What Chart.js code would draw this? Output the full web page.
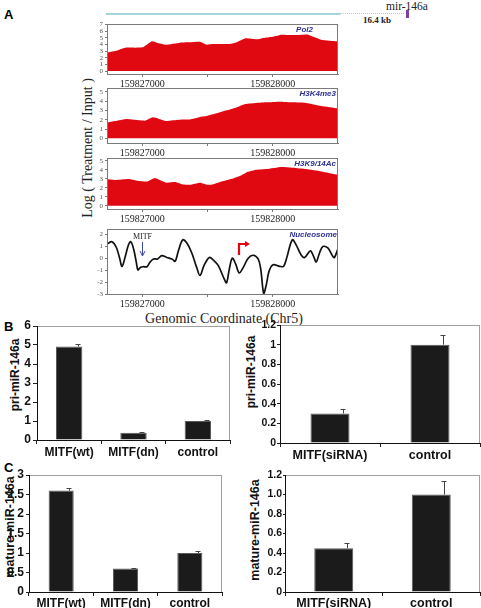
<!DOCTYPE html>
<html><head><meta charset="utf-8">
<script src="https://cdn.jsdelivr.net/npm/chart.js@4.4.1/dist/chart.umd.min.js"></script>
<style>
html,body{margin:0;padding:0;background:#fff;}
body{width:481px;height:608px;overflow:hidden;position:relative;}
canvas{position:absolute;}
.t{position:absolute;white-space:nowrap;line-height:1;}
.yt{position:absolute;white-space:nowrap;line-height:1;transform:translate(-50%,-50%) rotate(-90deg);font-family:'Liberation Sans',Arial,sans-serif;font-weight:bold;color:#111;}
</style></head><body>
<div class="t" style="left:4px;top:7px;font:bold 13px 'Liberation Sans',Arial,sans-serif;">A</div>
<div class="t" style="left:4px;top:319px;font:bold 13px 'Liberation Sans',Arial,sans-serif;">B</div>
<div class="t" style="left:4px;top:460px;font:bold 13px 'Liberation Sans',Arial,sans-serif;">C</div>
<div style="position:absolute;left:106px;top:13px;width:234px;height:1.5px;background:#a3d5de;"></div>
<div style="position:absolute;left:340px;top:13px;width:64px;height:0;border-top:1.5px dotted #a3d5de;"></div>
<div style="position:absolute;left:406px;top:10px;width:2.5px;height:8px;background:#7d3f9c;"></div>
<div class="t" style="left:386px;top:0px;font:11.5px 'Liberation Serif','Times New Roman',serif;color:#222;">mir-146a</div>
<div class="t" style="left:363px;top:15px;font:bold 9px 'Liberation Serif','Times New Roman',serif;color:#222;">16.4 kb</div>
<div class="t" style="left:88px;top:148px;transform:translate(-50%,-50%) rotate(-90deg);font:14px 'Liberation Serif','Times New Roman',serif;color:#222;">Log ( Treatment / Input )</div>
<div class="t" style="left:224px;top:311px;transform:translateX(-50%);font:14px 'Liberation Serif','Times New Roman',serif;color:#222;">Genomic Coordinate (Chr5)</div>
<div class="yt" style="left:15px;top:375px;font-size:12px;">pri-miR-146a</div>
<div class="yt" style="left:251px;top:372px;font-size:12px;">pri-miR-146a</div>
<div class="yt" style="left:10px;top:527px;font-size:12.5px;">mature-miR-146a</div>
<div class="yt" style="left:255px;top:530px;font-size:12.5px;">mature-miR-146a</div>
<canvas id="pol2"></canvas><canvas id="h3k4"></canvas><canvas id="h3k9"></canvas><canvas id="nuc"></canvas>
<canvas id="bl"></canvas><canvas id="br"></canvas><canvas id="cl"></canvas><canvas id="cr"></canvas>
<script>
// ---------- data ----------
const trackRange = [159826730, 159828500];
const trackTicks = [159827000, 159827500, 159828000];
const trackTickLabels = ['159827000', '', '159828000'];

const pol2Coords = [159826730,159826794,159826870,159826947,159827010,159827074,159827112,159827181,159827290,159827354,159827443,159827494,159827545,159827672,159827723,159827791,159827875,159827939,159828003,159828066,159828130,159828206,159828270,159828372,159828435,159828500];
const pol2Values = [2.75,3.0,3.5,3.5,3.6,4.45,4.25,3.95,4.25,4.3,4.4,3.95,4.05,4.05,4.3,4.9,4.75,5.0,5.15,5.45,5.4,5.4,5.45,4.7,4.55,4.45];

const h3k4Coords = [159826730,159826794,159826883,159826959,159827023,159827081,159827125,159827181,159827239,159827303,159827366,159827443,159827494,159827570,159827646,159827723,159827791,159827875,159827952,159828053,159828155,159828257,159828372,159828500];
const h3k4Values = [1.68,1.85,2.07,1.96,1.9,2.25,2.1,1.85,1.93,2.03,2.03,2.3,2.4,2.68,3.0,3.32,3.68,3.79,3.86,3.93,3.86,3.79,3.46,3.21];

const h3k9Coords = [159826730,159826794,159826896,159826959,159827036,159827092,159827125,159827188,159827252,159827303,159827366,159827443,159827499,159827545,159827608,159827697,159827748,159827799,159827863,159827952,159828066,159828155,159828257,159828372,159828500];
const h3k9Values = [2.96,2.85,2.96,2.78,2.7,3.07,2.93,2.56,2.63,2.4,2.33,2.56,2.33,2.4,2.7,3.04,3.3,3.7,3.96,4.07,4.3,4.22,4.07,3.81,3.44];

const nucCoords = [159826735,159826768,159826801,159826827,159826845,159826870,159826896,159826913,159826934,159826954,159826967,159826985,159827010,159827036,159827061,159827087,159827117,159827150,159827188,159827227,159827252,159827277,159827310,159827341,159827379,159827417,159827443,159827473,159827514,159827545,159827583,159827626,159827646,159827667,159827690,159827715,159827743,159827774,159827812,159827850,159827888,159827908,159827931,159827952,159827972,159828003,159828054,159828084,159828110,159828150,159828181,159828219,159828244,159828288,159828313,159828333,159828359,159828384,159828422,159828461,159828473,159828499];
const nucValues = [1.23,1.38,0.92,0,-0.68,0.15,1.17,1.38,0.77,-0.31,-0.98,-0.77,-0.71,-0.71,-0.31,-0.06,-0.06,0.22,0.06,-0.06,-0.25,0.62,1.54,1.29,0.46,-0.77,-1.45,-0.62,0.06,-0.15,-0.62,-1.69,-2.06,-0.92,0,-0.46,-1.23,-0.77,0,0.25,-0.06,-0.92,-2.95,-2.15,-1.08,-0.55,-0.68,-0.68,0.15,1.54,1.08,0.25,0.06,0.62,0.15,-0.31,0.46,0.98,0.86,0.15,0.06,0.77];

const mitfSite = 159827000;
const tssSite = 159827740;

const groups3 = ['MITF(wt)', 'MITF(dn)', 'control'];
const groups2 = ['MITF(siRNA)', 'control'];
const priValues3 = [4.92, 0.38, 1.0];
const priErrors3 = [0.13, 0.06, 0.07];
const priValues2 = [0.30, 1.0];
const priErrors2 = [0.045, 0.095];
const matureValues3 = [2.6, 0.6, 1.0];
const matureErrors3 = [0.06, 0.025, 0.05];
const matureValues2 = [0.45, 1.0];
const matureErrors2 = [0.05, 0.135];

// ---------- plugins ----------
const SERIF = "'Liberation Serif','Times New Roman',serif";
const SANS = "'Liberation Sans',Arial,sans-serif";

const framePlugin = {
  id: 'frame',
  beforeDraw(chart, args, o) { if (!o.after) drawFrame(chart, o); },
  afterDatasetsDraw(chart, args, o) { if (o.after) drawFrame(chart, o); }
};
function drawFrame(chart, o) {
  const a = chart.chartArea, ctx = chart.ctx;
  ctx.save();
  ctx.strokeStyle = o.color || '#888';
  ctx.lineWidth = 1;
  ctx.strokeRect(Math.round(a.left) + 0.5, Math.round(a.top) + 0.5, Math.round(a.right - a.left) - 1, Math.round(a.bottom - a.top));
  ctx.restore();
}

const trackLabelPlugin = {
  id: 'trackLabel',
  afterDatasetsDraw(chart, args, o) {
    if (!o.text) return;
    const a = chart.chartArea, ctx = chart.ctx;
    ctx.save();
    ctx.font = 'italic bold 8px ' + SANS;
    ctx.fillStyle = '#2e3192';
    ctx.textAlign = 'right';
    ctx.textBaseline = 'top';
    ctx.fillText(o.text, a.right - (o.dx || 2), a.top + 2);
    ctx.restore();
  }
};

const siteMarksPlugin = {
  id: 'siteMarks',
  afterDatasetsDraw(chart, args, o) {
    if (!o.show) return;
    const ctx = chart.ctx, xs = chart.scales.x, top = chart.chartArea.top;
    ctx.save();
    const mx = Math.round(xs.getPixelForValue(mitfSite)) + 0.5;
    ctx.font = '8px ' + SERIF;
    ctx.fillStyle = '#222';
    ctx.textAlign = 'center';
    ctx.textBaseline = 'middle';
    ctx.fillText('MITF', mx, top + 8);
    ctx.strokeStyle = '#3b4a9c';
    ctx.lineWidth = 1;
    ctx.beginPath(); ctx.moveTo(mx, top + 13); ctx.lineTo(mx, top + 26); ctx.stroke();
    ctx.beginPath(); ctx.moveTo(mx - 2.5, top + 22); ctx.lineTo(mx, top + 27); ctx.lineTo(mx + 2.5, top + 22); ctx.stroke();
    const tx = Math.round(xs.getPixelForValue(tssSite));
    ctx.strokeStyle = '#e30613';
    ctx.fillStyle = '#e30613';
    ctx.lineWidth = 2.2;
    ctx.beginPath(); ctx.moveTo(tx, top + 26); ctx.lineTo(tx, top + 15); ctx.lineTo(tx + 7, top + 15); ctx.stroke();
    ctx.beginPath(); ctx.moveTo(tx + 6, top + 12); ctx.lineTo(tx + 11, top + 15); ctx.lineTo(tx + 6, top + 18); ctx.closePath(); ctx.fill();
    ctx.restore();
  }
};

const errorBarPlugin = {
  id: 'errorBars',
  afterDatasetsDraw(chart, args, o) {
    if (!o.errors) return;
    const ctx = chart.ctx, ys = chart.scales.y;
    const meta = chart.getDatasetMeta(0);
    const vals = chart.data.datasets[0].data;
    ctx.save();
    ctx.strokeStyle = '#444';
    ctx.lineWidth = 1;
    meta.data.forEach((bar, i) => {
      const x = Math.round(bar.x + o.shift * bar.width) + 0.5;
      const y0 = ys.getPixelForValue(vals[i]);
      const y1 = Math.round(ys.getPixelForValue(vals[i] + o.errors[i])) + 0.5;
      ctx.beginPath();
      ctx.moveTo(x, y0); ctx.lineTo(x, y1);
      ctx.moveTo(x - 3, y1); ctx.lineTo(x + 2, y1);
      ctx.stroke();
    });
    ctx.restore();
  }
};

function placeCanvas(id, box, YW, PT, PR, XH) {
  const cv = document.getElementById(id);
  const W = box.r - box.l + YW + PR, H = box.b - box.t + PT + XH;
  cv.width = W; cv.height = H;
  cv.style.left = (box.l - YW) + 'px'; cv.style.top = (box.t - PT) + 'px';
  cv.style.width = W + 'px'; cv.style.height = H + 'px';
  return cv;
}

// ---------- genomic tracks ----------
function trackChart(id, box, coords, values, yMin, yMax, kind, label, labelDx) {
  const YW = 27, PT = 6, PR = 6, XH = 16;
  const cv = placeCanvas(id, box, YW, PT, PR, XH);
  const isLine = kind === 'line';
  new Chart(cv, {
    type: 'line',
    data: { datasets: [{
      data: coords.map((c, i) => ({ x: c, y: values[i] })),
      fill: isLine ? false : 'origin',
      backgroundColor: '#e00912',
      borderColor: isLine ? '#111' : '#e00912',
      borderWidth: isLine ? 1.7 : 0,
      tension: isLine ? 0.35 : 0.15,
      pointRadius: 0
    }]},
    options: {
      responsive: false, animation: false, events: [],
      layout: { padding: { top: PT, right: PR, left: 0, bottom: 0 } },
      plugins: {
        legend: { display: false }, tooltip: { enabled: false },
        frame: { color: '#7a7a7a', after: true },
        trackLabel: { text: label, dx: labelDx },
        siteMarks: { show: isLine }
      },
      scales: {
        x: {
          type: 'linear', min: trackRange[0], max: trackRange[1],
          afterBuildTicks: s => { s.ticks = trackTicks.map(v => ({ value: v })); },
          afterFit: s => { s.height = XH; },
          ticks: {
            autoSkip: false, maxRotation: 0, padding: 1, color: '#222',
            font: { family: SERIF, size: 10 },
            callback: v => trackTickLabels[trackTicks.indexOf(v)] ?? ''
          },
          grid: { drawOnChartArea: false, tickLength: 3, color: '#7a7a7a' },
          border: { color: '#7a7a7a' }
        },
        y: {
          min: yMin, max: yMax,
          afterBuildTicks: s => {
            const t = [];
            for (let v = Math.ceil(yMin); v <= Math.floor(yMax); v++) t.push({ value: v });
            s.ticks = t;
          },
          afterFit: s => { s.width = YW; },
          ticks: { autoSkip: false, padding: 2, color: '#555', font: { family: SERIF, size: 7, lineHeight: 1 } },
          grid: { drawOnChartArea: false, tickLength: 2, color: '#7a7a7a' },
          border: { color: '#7a7a7a' }
        }
      }
    },
    plugins: [framePlugin, trackLabelPlugin, siteMarksPlugin]
  });
}

trackChart('pol2', { l: 107, t: 24, r: 338, b: 74 }, pol2Coords, pol2Values, -0.45, 7.05, 'area', 'Pol2', 25);
trackChart('h3k4', { l: 107, t: 88, r: 338, b: 143 }, h3k4Coords, h3k4Values, -0.5, 5.4, 'area', 'H3K4me3', 2);
trackChart('h3k9', { l: 107, t: 158, r: 338, b: 209 }, h3k9Coords, h3k9Values, -0.35, 5.3, 'area', 'H3K9/14Ac', 2);
trackChart('nuc', { l: 107, t: 229, r: 338, b: 294 }, nucCoords, nucValues, -3, 2.45, 'line', 'Nucleosome', 1);

// ---------- bar charts ----------
function barChart(id, box, cfg) {
  const YW = cfg.YW, PT = 10, PR = cfg.PR, XH = cfg.XH;
  const cv = placeCanvas(id, box, YW, PT, PR, XH);
  new Chart(cv, {
    type: 'bar',
    data: { labels: cfg.labels, datasets: [{
      data: cfg.values, backgroundColor: '#1b1b1b', borderColor: '#5a5a5a', borderWidth: 1,
      categoryPercentage: 1, barPercentage: cfg.barPct
    }]},
    options: {
      responsive: false, animation: false, events: [],
      layout: { padding: { top: PT, right: PR, left: 0, bottom: 0 } },
      plugins: {
        legend: { display: false }, tooltip: { enabled: false },
        frame: { color: '#a0a0a0', after: false },
        errorBars: { errors: cfg.errors, shift: 0.33 }
      },
      scales: {
        x: {
          afterFit: s => { s.height = XH; },
          ticks: { padding: cfg.xPad, color: '#111', font: { family: SANS, size: cfg.xFont, weight: 'bold' } },
          grid: { offset: true, drawOnChartArea: false, tickLength: 4, color: '#222' },
          border: { color: '#111' }
        },
        y: {
          min: 0, max: cfg.max,
          afterFit: s => { s.width = YW; },
          ticks: { stepSize: cfg.step, padding: cfg.yPad, color: '#111', font: { family: SANS, size: cfg.yFont, weight: 'bold' }, callback: cfg.fmt },
          grid: { drawOnChartArea: false, tickLength: cfg.yTick, color: '#222' },
          border: { color: '#111' }
        }
      }
    },
    plugins: [framePlugin, errorBarPlugin]
  });
}

const plain = v => String(Math.round(v * 10) / 10);
const oneDec = v => v === 0 ? '0' : v.toFixed(1);

barChart('bl', { l: 37, t: 326, r: 230, b: 440 }, { labels: groups3, values: priValues3, errors: priErrors3, max: 6, step: 1, fmt: plain, YW: 37, PR: 6, XH: 22, xPad: 1, xFont: 12, yFont: 12, yPad: 2, yTick: 4, barPct: 0.41 });
barChart('br', { l: 280, t: 325, r: 480, b: 443 }, { labels: groups2, values: priValues2, errors: priErrors2, max: 1.2, step: 0.2, fmt: plain, YW: 40, PR: 1, XH: 22, xPad: 1, xFont: 12.5, yFont: 10.5, yPad: 1, yTick: 3, barPct: 0.39 });
barChart('cl', { l: 29, t: 475, r: 222, b: 592 }, { labels: groups3, values: matureValues3, errors: matureErrors3, max: 3, step: 0.5, fmt: plain, YW: 29, PR: 6, XH: 16, xPad: 0, xFont: 12, yFont: 12, yPad: 2, yTick: 3, barPct: 0.39 });
barChart('cr', { l: 285, t: 475, r: 480, b: 592 }, { labels: groups2, values: matureValues2, errors: matureErrors2, max: 1.2, step: 0.2, fmt: oneDec, YW: 40, PR: 1, XH: 16, xPad: 0, xFont: 12.5, yFont: 10.5, yPad: 1, yTick: 2, barPct: 0.4 });
</script>
</body></html>
